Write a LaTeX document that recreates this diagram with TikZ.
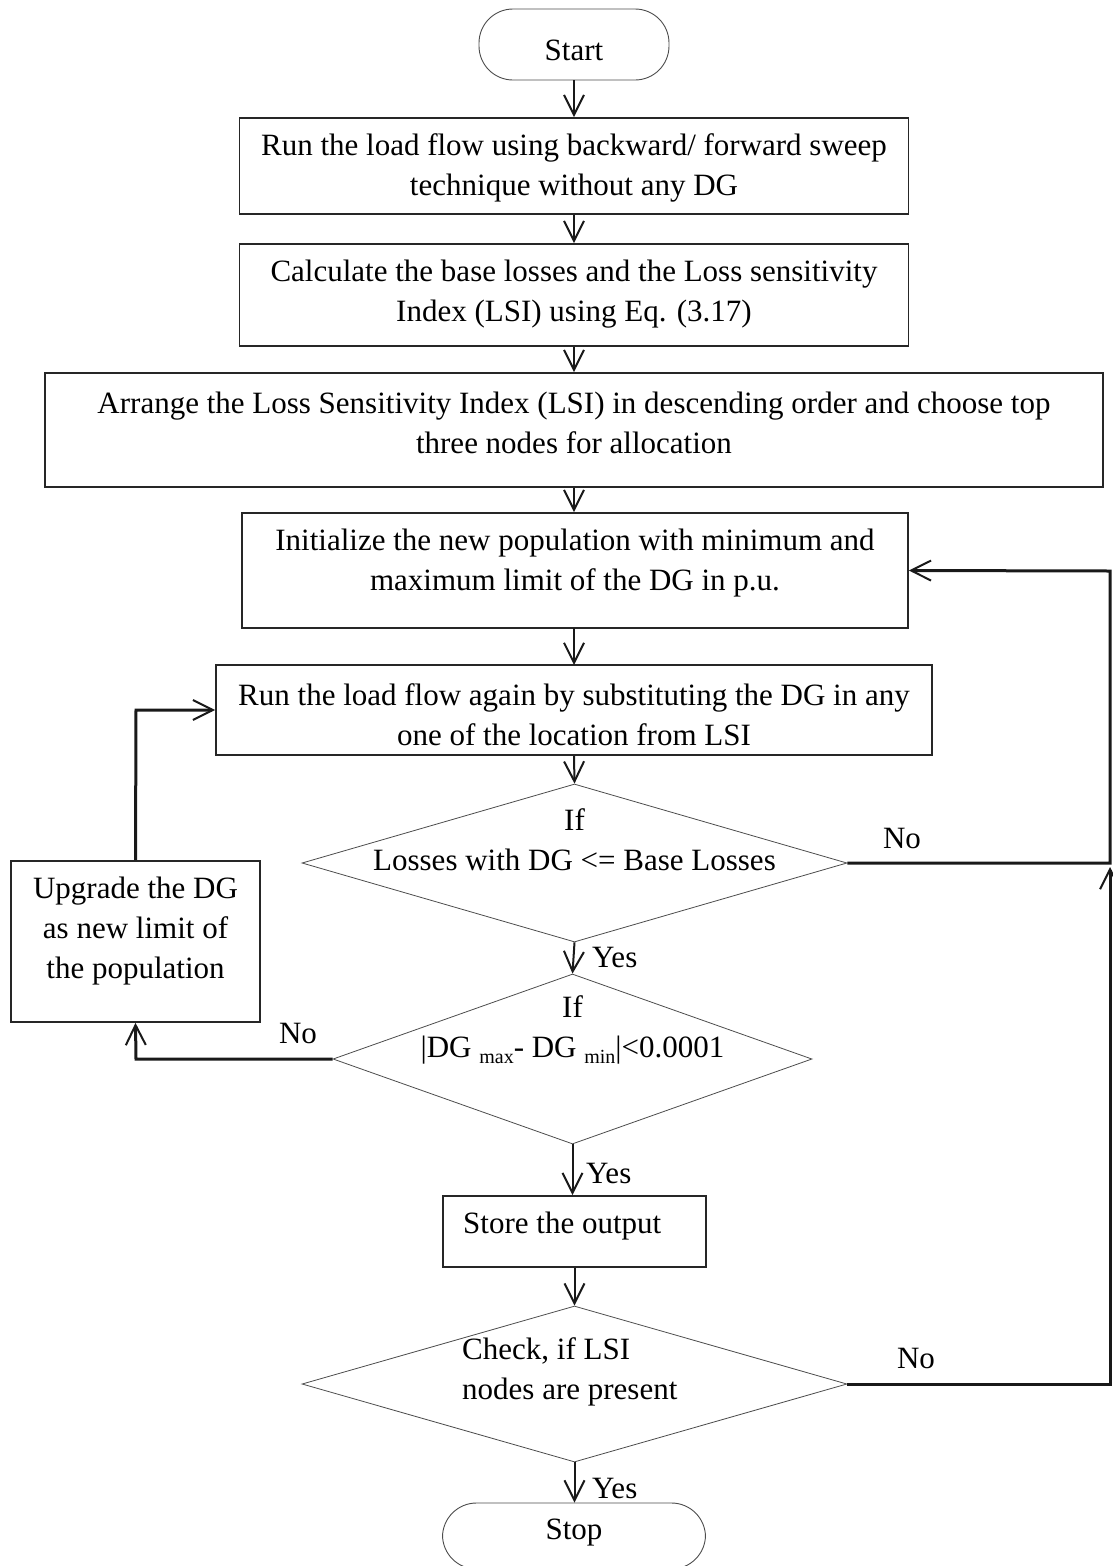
\documentclass[tikz,border=0pt]{standalone}
\usepackage{fontspec}
\setmainfont{Liberation Serif}
\usetikzlibrary{arrows.meta,shapes.geometric}
\newcommand{\sbs}[1]{\raisebox{-6pt}{\fontsize{20}{20}\selectfont #1}}
\begin{document}
\begin{tikzpicture}[x=1pt,y=-1pt,
  every node/.style={font=\fontsize{31}{40}\selectfont},
  box/.style={draw=black!85, line width=1.7pt, rectangle, inner sep=0pt},
  term/.style={draw=black!70, line width=0.9pt, rectangle, rounded corners=34pt, inner sep=0pt},
  decision/.style={draw=black!70, line width=0.8pt, diamond, inner sep=0pt},
  txt/.style={align=center, inner sep=0pt},
  flow/.style={line width=2pt, draw=black!90, -{Straight Barb[length=20pt,width=20pt,line width=2pt]}},
  loop/.style={line width=3pt, draw=black!90, -{Straight Barb[length=20pt,width=20pt,line width=2pt]}},
  lbl/.style={inner sep=0pt}]
\useasboundingbox (0,0) rectangle (1113,1566);

% terminals
\node[term, minimum width=190pt, minimum height=71pt] (start) at (574,44.5) {};
\node[txt] (tstart) at (574,50) {Start};
\node[term, minimum width=263pt, minimum height=66pt] (stop) at (574,1536) {};
\node[txt] (tstop) at (574,1533) {Stop};

% process boxes
\node[box, minimum width=669pt, minimum height=96pt] (b1) at (574,166) {};
\node[txt] (t1) at (574,168) {Run the load flow using backward/ forward sweep\\technique without any DG};

\node[box, minimum width=669pt, minimum height=102pt] (b2) at (574,295) {};
\node[txt] (t2) at (574,294) {Calculate the base losses and the Loss sensitivity\\Index (LSI) using Eq. (3.17)};

\node[box, minimum width=1058pt, minimum height=114pt] (b3) at (574,430) {};
\node[txt] (t3) at (574,423) {Arrange the Loss Sensitivity Index (LSI) in descending order and choose top\\three nodes for allocation};

\node[box, minimum width=666pt, minimum height=115pt] (b4) at (575,570.5) {};
\node[txt] (t4) at (575,563) {Initialize the new population with minimum and\\maximum limit of the DG in p.u.};

\node[box, minimum width=716pt, minimum height=90pt] (b5) at (574,710) {};
\node[txt] (t5) at (574,715) {Run the load flow again by substituting the DG in any\\one of the location from LSI};

\node[box, minimum width=249pt, minimum height=161pt] (up) at (135.5,941.5) {};
\node[txt] (tup) at (135.5,931) {Upgrade the DG\\as new limit of\\the population};

\node[box, minimum width=263pt, minimum height=71pt] (store) at (574.5,1231.5) {};
\node[txt, anchor=west] (tstore) at (463,1226) {Store the output};

% decisions
\node[decision, minimum width=545pt, minimum height=158pt] (d1) at (574.5,863) {};
\node[txt] (td1) at (574.5,840) {If\\Losses with DG <= Base Losses};

\node[decision, minimum width=479pt, minimum height=170pt] (d2) at (572.5,1059) {};
\node[txt] (td2) at (572.5,1030) {If\\|DG \sbs{max}- DG \sbs{min}|<0.0001};

\node[decision, minimum width=545pt, minimum height=156pt] (d3) at (574.5,1384) {};
\node[txt, align=left, anchor=west] (td3) at (462,1372) {Check, if LSI\\nodes are present};

% junction points of the return lines
\coordinate (rtop) at (1110,571);
\coordinate (rmid) at (1110,863);
\coordinate (rbot) at (1110,1384);
\coordinate (rtip) at (1110,867);
\coordinate (lbot) at (136,1059);
\coordinate (ltop) at (136,710);

% main flow
\draw[flow] (start.south) -- (b1.north);
\draw[flow] (b1.south) -- (b1.south |- b2.north);
\draw[flow] (b2.south) -- (b2.south |- b3.north);
\draw[flow] (b3.south) -- (b3.south |- b4.north);
\draw[flow] (574,628) -- (574,665);
\draw[flow] (b5.south) -- (d1.north);
\draw[flow] (d1.south) -- (d2.north);
\draw[flow] (d2.south) -- (d2.south |- store.north);
\draw[flow] (store.south) -- (store.south |- d3.north);
\draw[flow] (d3.south) -- (d3.south |- stop.north);

% return paths
\draw[loop] (d1.east) -- (rmid) -- (rtop) -- (b4.east);
\draw[loop] (d3.east) -- (rbot) -- (rtip);
\draw[loop] (d2.west) -- (lbot) -- (up.south);
\draw[loop] (up.north) -- (ltop) -- (b5.west);

% branch labels
\node[lbl, anchor=west] (y1) at (592,957) {Yes};
\node[lbl, anchor=west] (y2) at (586,1173) {Yes};
\node[lbl, anchor=west] (y3) at (592,1488) {Yes};
\node[lbl] (n1) at (902,838) {No};
\node[lbl] (n2) at (298,1033) {No};
\node[lbl] (n3) at (916,1358) {No};
\end{tikzpicture}
\end{document}
